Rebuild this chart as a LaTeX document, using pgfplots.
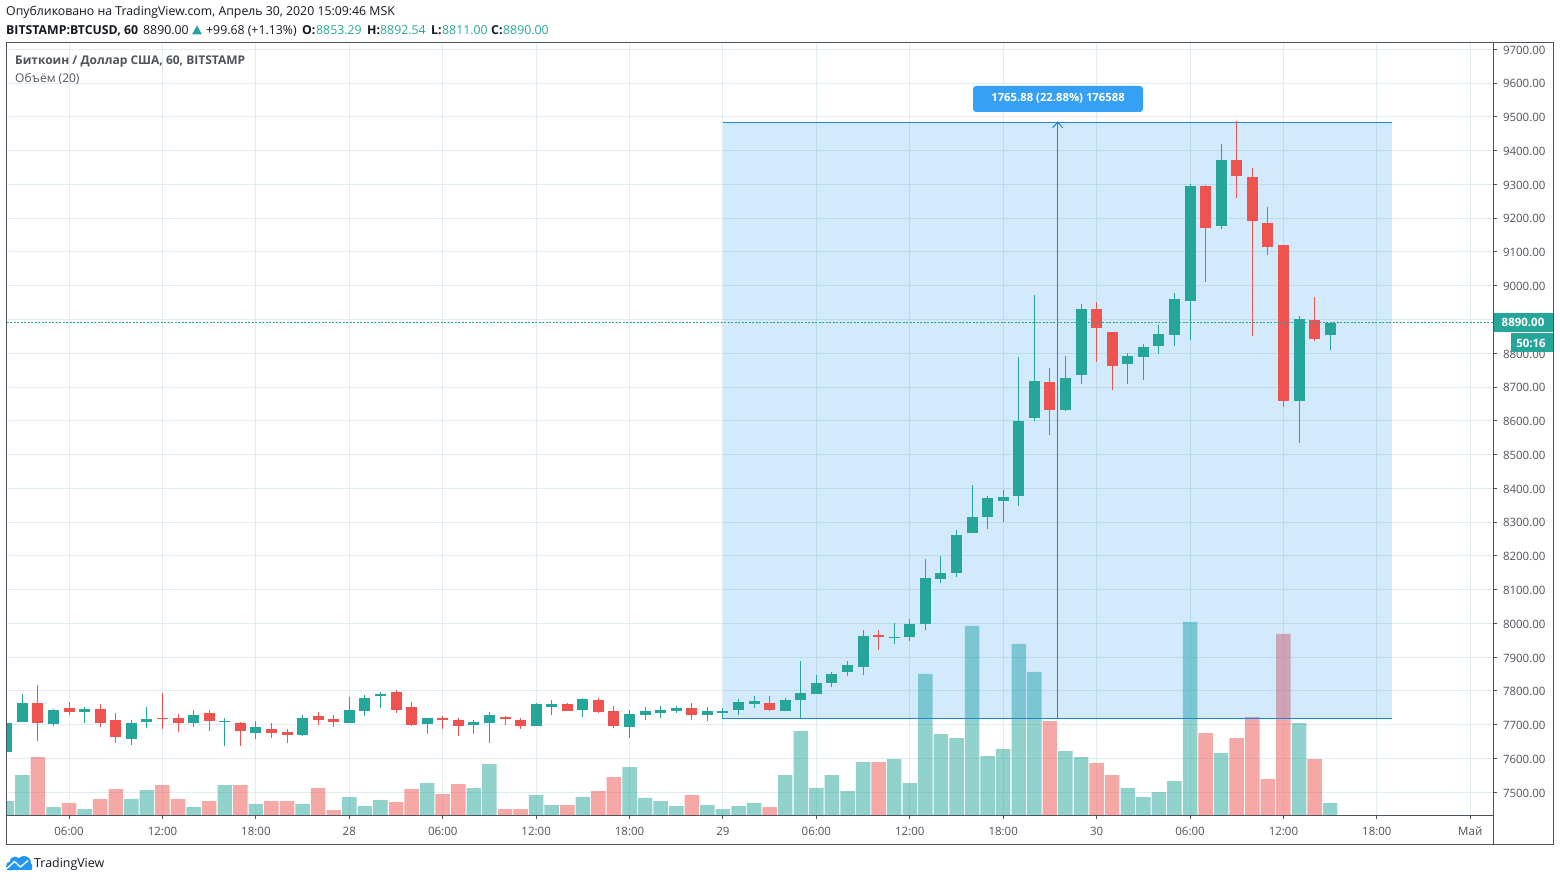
\documentclass[border=0pt]{standalone}
\usepackage{fontspec}
\setmainfont{Open Sans}
\usepackage{pgfplots}
\usepackage{pgfplotstable}
\pgfplotsset{compat=1.18}

\definecolor{tvgreen}{HTML}{26A69A}
\definecolor{tvred}{HTML}{EF5350}
\definecolor{tvblue}{HTML}{2196F3}
\definecolor{tvline}{HTML}{1E84D8}
\definecolor{tvgrid}{HTML}{E1ECF2}
\definecolor{tvframe}{HTML}{4C525E}
\definecolor{tvtext}{HTML}{50535E}
\definecolor{tvdark}{HTML}{131722}

\newcommand{\txt}{\fontsize{11.5}{13}\selectfont}
\newcommand{\hdr}{\fontsize{12.3}{14}\selectfont}
\newcommand{\lgd}{\fontsize{12}{14}\selectfont}

% hour since 27 Apr 00:00, open, high, low, close, volume (bar height)
\pgfplotstableread{
x o h l c v
2 7619 7710 7619 7704 14
3 7708 7790 7708 7763 40
5 7701 7747 7696 7745 8
7 7737 7754 7704 7748 6
10 7659 7713 7639 7704 16
11 7707 7754 7689 7716 25
14 7704 7743 7692 7728 8
16 7707 7719 7636 7710 30
18 7677 7710 7659 7692 11
21 7671 7728 7668 7719 11
24 7704 7781 7704 7743 18
25 7740 7787 7725 7778 9
26 7784 7796 7751 7790 15
29 7701 7719 7674 7719 32
32 7698 7713 7674 7707 27
33 7704 7737 7647 7728 51
36 7695 7763 7695 7760 20
37 7754 7772 7728 7760 10
39 7743 7778 7722 7775 18
42 7692 7743 7662 7731 48
43 7728 7754 7713 7740 17
44 7734 7757 7719 7745 14
45 7740 7757 7734 7751 9
47 7728 7754 7710 7740 10
48 7734 7751 7718 7740 6
49 7743 7775 7728 7766 9
50 7760 7784 7751 7769 12
52 7742 7778 7742 7772 40
53 7772 7890 7718 7795 84
54 7792 7846 7792 7825 27
55 7825 7857 7813 7851 40
56 7857 7890 7843 7878 24
57 7872 7981 7846 7964 53
59 7958 8002 7940 7961 56
60 7961 8014 7949 7999 32
61 7999 8191 7981 8135 141
62 8132 8200 8120 8150 81
63 8150 8276 8138 8262 77
64 8268 8409 8268 8315 189
65 8315 8377 8279 8371 59
66 8362 8394 8300 8374 66
67 8377 8789 8347 8598 171
68 8608 8973 8598 8718 143
70 8632 8792 8629 8727 64
71 8736 8946 8709 8931 58
74 8768 8801 8709 8792 27
75 8789 8827 8721 8819 18
76 8822 8884 8798 8857 23
77 8854 8978 8822 8961 34
78 8955 9301 8839 9295 193
80 9176 9419 9167 9372 62
85 8659 8910 8535 8901 92
87 8853.29 8892.54 8811 8890 12
}\upT

\pgfplotstableread{
x o h l c v
4 7763 7817 7653 7704 58
6 7751 7766 7729 7737 12
8 7748 7760 7692 7704 16
9 7713 7734 7645 7665 26
12 7719 7793 7686 7716 30
13 7719 7731 7680 7704 16
15 7734 7743 7683 7710 14
17 7704 7707 7636 7683 30
19 7686 7704 7662 7677 14
20 7680 7686 7645 7671 14
22 7725 7737 7698 7713 27
23 7716 7728 7692 7707 5
27 7796 7802 7734 7745 13
28 7754 7766 7695 7698 26
30 7719 7725 7686 7713 21
31 7713 7719 7668 7695 31
34 7722 7725 7698 7716 6
35 7713 7719 7686 7695 6
38 7760 7763 7740 7740 10
40 7772 7778 7734 7737 24
41 7740 7757 7689 7695 38
46 7751 7763 7713 7728 20
51 7763 7784 7742 7745 8
58 7967 7981 7922 7961 53
69 8715 8755 8557 8632 94
72 8931 8952 8774 8875 52
73 8863 8863 8691 8762 40
79 9295 9298 9011 9170 82
81 9372 9487 9259 9324 77
82 9321 9348 8851 9191 98
83 9185 9233 9091 9114 36
84 9120 9120 8641 8659 181
86 8898 8966 8836 8842 56
}\downT

\pgfplotsset{
  base/.style={
    at={(6.5pt,66pt)}, anchor=south west,
    scale only axis, width=1487pt, height=772pt,
    xmin=1.98, xmax=97.49,
  },
  price/.style={base, ymin=7432.8, ymax=9718.7},
  wick/.style={draw=none, mark=none, forget plot,
    error bars/.cd, y dir=plus, y explicit, error mark=none,
    error bar style={line width=1pt, color=#1}},
  body/.style={draw=none, mark=none, forget plot,
    error bars/.cd, y dir=plus, y explicit, error mark=none,
    error bar style={line width=11pt, color=#1}},
}

\begin{document}
\begin{tikzpicture}[x=1pt,y=1pt]
\path[use as bounding box, fill=white] (0,0) rectangle (1560,881);

% frame, grid, ticks
\begin{axis}[price,
    axis line style={color=tvframe, line width=1pt},
    grid=major, major grid style={color=tvgrid, line width=1pt},
    xtick={6,12,18,24,30,36,42,48,54,60,66,72,78,84,90,96},
    xticklabels={06:00,12:00,18:00,28,06:00,12:00,18:00,29,06:00,12:00,18:00,30,06:00,12:00,18:00,Май},
    ytick={7500,7600,...,9700},
    yticklabel pos=right,
    tick align=outside, major tick length=4pt,
    tick style={color=tvframe, line width=1pt},
    tick label style={font=\txt, color=tvtext},
    xtick pos=bottom, ytick pos=right,
    x tick label style={yshift=-4.5pt},
    y tick label style={xshift=2pt, yshift=-0.7pt},
    /pgf/number format/.cd, fixed, fixed zerofill, precision=2, 1000 sep={}, assume math mode=true,
  ]
  \addplot[draw=none, forget plot] coordinates {(2,7500) (97,9700)};
\end{axis}

% volume bars, height in px of the 772 px pane
\begin{axis}[base, hide axis, ymin=0, ymax=772]
  \addplot[ybar, bar width=14.5pt, bar shift=0pt, draw=none, fill=tvgreen, fill opacity=0.5] table[x=x,y=v] {\upT};
  \addplot[ybar, bar width=14.5pt, bar shift=0pt, draw=none, fill=tvred, fill opacity=0.5] table[x=x,y=v] {\downT};
\end{axis}

% price range drawing and candles
\begin{axis}[price, hide axis]
  \addplot[draw=none, fill=tvblue, fill opacity=0.2, forget plot] coordinates {(48,7718) (91,7718) (91,9484) (48,9484)} --cycle;
  \addplot[tvline, line width=1pt, forget plot] coordinates {(48,7718) (91,7718)};
  \addplot[tvline, line width=1pt, forget plot] coordinates {(48,9484) (91,9484)};
  \addplot[tvline, line width=1pt, forget plot] coordinates {(69.5,7718) (69.5,9484)};
  \addplot[tvline, line width=1pt, forget plot] coordinates {(69.17,9468) (69.5,9484) (69.83,9468)};

  \addplot[wick=tvgreen] table[x=x,y=l,y error plus expr=\thisrow{h}-\thisrow{l}] {\upT};
  \addplot[wick=tvred] table[x=x,y=l,y error plus expr=\thisrow{h}-\thisrow{l}] {\downT};
  \addplot[body=tvgreen] table[x=x,y=o,y error plus expr=\thisrow{c}-\thisrow{o}] {\upT};
  \addplot[body=tvred] table[x=x,y=c,y error plus expr=\thisrow{o}-\thisrow{c}] {\downT};

  \addplot[tvgreen, line width=1.2pt, dash pattern=on 2pt off 1.5pt, forget plot] coordinates {(1.98,8890) (97.49,8890)};
\end{axis}

% outer frame of the pane
\draw[tvframe, line width=1pt] (6.5,37) rectangle (1553.5,838);
\draw[tvframe, line width=1pt] (1493.5,37) -- (1493.5,838);

% price tags
\fill[tvgreen] (1493.5,549) rectangle (1553,568);
\node[white, font=\txt\bfseries, anchor=center] at (1523,558.5) {8890.00};
\fill[tvgreen] (1511,529) rectangle (1553,548);
\node[white, font=\txt\bfseries, anchor=center] at (1531,538) {50:16};

% measure label
\fill[tvblue, rounded corners=3pt, fill opacity=0.9] (973,769) rectangle (1143,795);
\node[white, font=\fontsize{11.3}{13}\selectfont\bfseries] at (1058,783) {1765.88 (22.88\%) 176588};

% header
\node[anchor=base west, inner sep=0pt, font=\hdr, color=tvdark] at (6,865) {Опубликовано на TradingView.com, Апрель 30, 2020 15:09:46 MSK};
\node[anchor=base west, inner sep=0pt, font=\hdr\bfseries, color=tvdark] at (6,846.5) {BITSTAMP:BTCUSD, 60};
\node[anchor=base west, inner sep=0pt, font=\hdr, color=tvdark] at (143,846.5) {8890.00};
\fill[tvgreen] (192,846.5) -- (202,846.5) -- (197,855.5) -- cycle;
\node[anchor=base west, inner sep=0pt, font=\hdr, color=tvdark] at (206,846.5) {+99.68 (+1.13\%)};
\node[anchor=base west, inner sep=0pt, font=\hdr\bfseries, color=tvdark] at (302,846.5) {O:};
\node[anchor=base west, inner sep=0pt, font=\hdr, color=tvgreen] at (316,846.5) {8853.29};
\node[anchor=base west, inner sep=0pt, font=\hdr\bfseries, color=tvdark] at (367,846.5) {H:};
\node[anchor=base west, inner sep=0pt, font=\hdr, color=tvgreen] at (380,846.5) {8892.54};
\node[anchor=base west, inner sep=0pt, font=\hdr\bfseries, color=tvdark] at (431,846.5) {L:};
\node[anchor=base west, inner sep=0pt, font=\hdr, color=tvgreen] at (442,846.5) {8811.00};
\node[anchor=base west, inner sep=0pt, font=\hdr\bfseries, color=tvdark] at (491,846.5) {C:};
\node[anchor=base west, inner sep=0pt, font=\hdr, color=tvgreen] at (503,846.5) {8890.00};

% legend in the pane
\node[anchor=base west, inner sep=0pt, font=\lgd\bfseries, color=tvtext] at (15,816) {Биткоин / Доллар США, 60, BITSTAMP};
\node[anchor=base west, inner sep=0pt, font=\lgd, color=tvtext] at (15,798.5) {Объём (20)};

% footer logo
\fill[tvblue] (6.5,11) rectangle (32,14);
\fill[tvblue] (10.5,15) circle (4.5);
\fill[tvblue] (15,19) circle (5.5);
\fill[tvblue] (24,18) circle (7);
\fill[tvblue] (29,14.5) circle (3.5);
\draw[white, line width=1.3pt] (7,12.5) -- (14.5,19.5) -- (20.5,14) -- (28,20.5);
\node[anchor=base west, inner sep=0pt, font=\fontsize{12.4}{14}\selectfont, color=tvdark] at (34,14) {TradingView};
\end{tikzpicture}
\end{document}
